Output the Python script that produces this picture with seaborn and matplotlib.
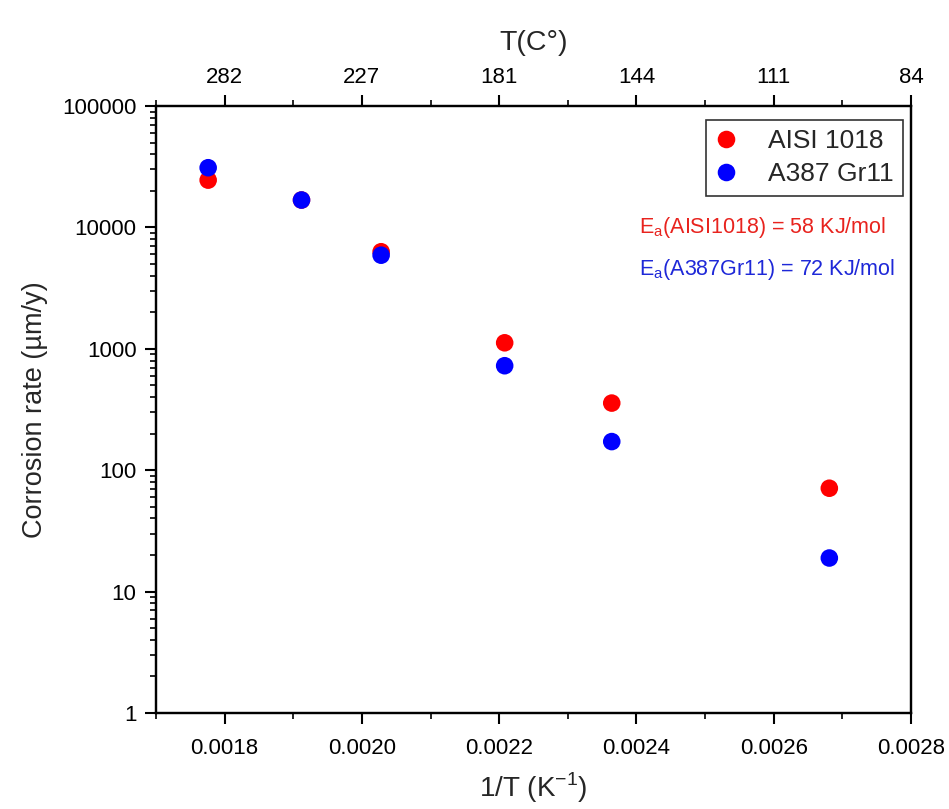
import matplotlib
matplotlib.use("Agg")
import matplotlib.pyplot as plt
import matplotlib.ticker as mticker
import seaborn as sns
import pandas as pd
import numpy as np

inv_T = [0.001776, 0.001912, 0.002028, 0.002208, 0.002364, 0.002681]
aisi_1018 = [24500, 16800, 6300, 1120, 357, 71]
a387_gr11 = [31000, 16800, 5900, 725, 172, 18.9]
series_names = ["AISI 1018", "A387 Gr11"]
top_tick_pos = [0.0018, 0.0020, 0.0022, 0.0024, 0.0026, 0.0028]
top_tick_labels = ["282", "227", "181", "144", "111", "84"]

df = pd.DataFrame({
    "x": inv_T * 2,
    "y": aisi_1018 + a387_gr11,
    "series": [series_names[0]] * len(inv_T) + [series_names[1]] * len(inv_T),
})

sns.set_theme(style="white")
plt.rcParams['font.family'] = ['Liberation Sans', 'DejaVu Sans']
plt.rcParams['mathtext.fontset'] = 'custom'
plt.rcParams['mathtext.rm'] = 'Liberation Sans'

fig = plt.figure(figsize=(9.49, 8.09), dpi=100)
ax = fig.add_axes([156 / 949, 0.1187, (911 - 156) / 949, 0.7503])

sns.scatterplot(data=df, x="x", y="y", hue="series",
                palette={series_names[0]: "#ff0000", series_names[1]: "#0000ff"},
                s=160, edgecolor="none", ax=ax, legend=True)

ax.set_yscale("log")
ax.set_ylim(1, 100000)
ax.set_xlim(0.0017, 0.0028)
ax.yaxis.set_major_locator(mticker.LogLocator(base=10, numticks=10))
ax.yaxis.set_major_formatter(mticker.FuncFormatter(lambda v, p: f"{v:.0f}"))
ax.yaxis.set_minor_locator(mticker.LogLocator(base=10, subs=np.arange(2, 10), numticks=10))
ax.yaxis.set_minor_formatter(mticker.NullFormatter())
ax.xaxis.set_major_locator(mticker.FixedLocator(top_tick_pos))
ax.xaxis.set_major_formatter(mticker.FuncFormatter(lambda v, p: f"{v:.4f}"))
ax.xaxis.set_minor_locator(mticker.MultipleLocator(0.0001))

for sp in ax.spines.values():
    sp.set_color("black")
    sp.set_linewidth(1.6)

ax.tick_params(axis="both", which="major", direction="out", length=8, width=1.5,
               colors="black", labelsize=16, left=True, bottom=True)
ax.tick_params(axis="both", which="minor", direction="out", length=4, width=1.2,
               colors="black", left=True, bottom=True)
ax.tick_params(axis="x", pad=10)
ax.tick_params(axis="y", pad=6)

ax.set_xlabel("1/T (K$^{-1}$)", fontsize=20, labelpad=8)
ax.set_ylabel("Corrosion rate (µm/y)", fontsize=19.5, labelpad=10)

top = ax.twiny()
top.set_xlim(ax.get_xlim())
top.xaxis.set_major_locator(mticker.FixedLocator(top_tick_pos))
top.set_xticklabels(top_tick_labels)
top.xaxis.set_minor_locator(mticker.MultipleLocator(0.0001))
top.tick_params(axis="x", which="major", direction="out", length=8, width=1.5,
                colors="black", labelsize=16, top=True, pad=5)
top.tick_params(axis="x", which="minor", direction="out", length=4, width=1.2,
                colors="black", top=True)
top.set_xlabel("T(C°)", fontsize=20.5, labelpad=12)
for sp in top.spines.values():
    sp.set_color("black")
    sp.set_linewidth(1.6)

leg = ax.legend(loc="upper right", fontsize=19, frameon=True, fancybox=False,
                edgecolor="black", markerscale=1.0, borderpad=0.35,
                handlelength=0.85, handletextpad=1.15, labelspacing=0.35,
                borderaxespad=0.0, bbox_to_anchor=(0.989, 0.977))
leg.get_frame().set_linewidth(1.2)

ax.text(0.640, 0.799, "E$_\\mathregular{a}$(AISI1018) = 58 KJ/mol", color="#e8231e",
        fontsize=15.5, transform=ax.transAxes, va="center")
ax.text(0.640, 0.730, "E$_\\mathregular{a}$(A387Gr11) = 72 KJ/mol", color="#1e28d8",
        fontsize=15.5, transform=ax.transAxes, va="center")

fig.savefig("out.png", dpi=100)
